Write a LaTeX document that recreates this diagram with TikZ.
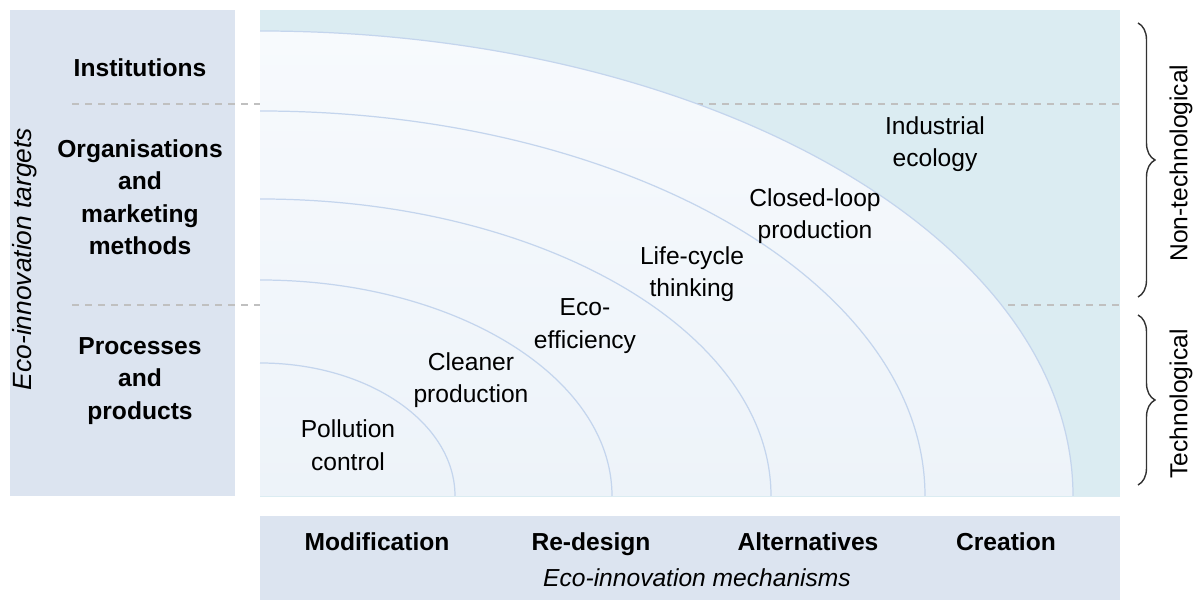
\documentclass[tikz,border=0pt]{standalone}
\usepackage{fontspec}
\setmainfont{Liberation Sans}
\usetikzlibrary{decorations.pathreplacing}
\definecolor{panel}{RGB}{220,228,240}
\definecolor{field}{RGB}{219,236,242}
\definecolor{ringline}{RGB}{196,213,237}
\definecolor{ringtop}{RGB}{247,250,253}
\definecolor{ringbot}{RGB}{237,243,249}
\definecolor{dashgray}{RGB}{192,192,192}
\definecolor{bracegray}{RGB}{50,50,50}

\begin{document}
\begin{tikzpicture}[x=0.02cm,y=0.02cm,
  lbl/.style={align=center,inner sep=0pt,font=\fontsize{14}{18.5}\selectfont},
  hd/.style={align=center,inner sep=0pt,font=\fontsize{14}{18.5}\selectfont\bfseries},
  mech/.style={hd,text height=10pt,text depth=3pt},
  it/.style={inner sep=0pt,font=\fontsize{14}{18.5}\selectfont\itshape},
  sep/.style={dashgray,line width=1.1pt,dash pattern=on 4pt off 3.4pt},
  bracket/.style={bracegray,line width=0.8pt,decorate,decoration={brace,amplitude=0.34cm}}]
\useasboundingbox (0,0) rectangle (1200,601);
\fill[panel] (10,105) rectangle (235,591);
\fill[field] (260,104) rectangle (1120,591);
\fill[panel] (260,1) rectangle (1120,85);
\draw[sep] (72,497) -- (1120,497);
\draw[sep] (72,296) -- (1120,296);
% rings
\shade[top color=ringtop,bottom color=ringbot] (260,105) -- (260,570) arc[start angle=90,end angle=0,x radius=813,y radius=465] -- cycle;
\foreach \rx/\ry in {813/465,665/385,511/297,352/216,195/133}
  \draw[ringline,line width=0.7pt] (260,105+\ry) arc[start angle=90,end angle=0,x radius=\rx,y radius=\ry];
\node[hd] (inst) at (140,533) {Institutions};
\node[hd] (org) at (140,404) {Organisations\\and\\marketing\\methods};
\node[hd] (proc) at (140,220) {Processes\\and\\products};
\node[it,font=\fontsize{15}{18.5}\selectfont\itshape,rotate=90] (targets) at (25,342) {Eco-innovation targets};
\node[lbl] (poll) at (348,156) {Pollution\\control};
\node[lbl] (clean) at (471,221) {Cleaner\\production};
\node[lbl] (eff) at (585,275) {Eco-\\efficiency};
\node[lbl] (life) at (692,327) {Life-cycle\\thinking};
\node[lbl] (loop) at (815,385) {Closed-loop\\production};
\node[lbl] (indus) at (935,457) {Industrial\\ecology};
\node[mech] (mod) at (377,56.5) {Modification};
\node[mech] (redes) at (591,56.5) {Re-design};
\node[mech] (alt) at (808,56.5) {Alternatives};
\node[mech] (creat) at (1006,56.5) {Creation};
\node[it] (mechs) at (697,23) {Eco-innovation mechanisms};
\coordinate (nt1) at (1138,578);
\coordinate (nt2) at (1138,304);
\coordinate (t1) at (1138,286);
\coordinate (t2) at (1138,116);
\draw[bracket] (nt1) -- (nt2);
\draw[bracket] (t1) -- (t2);
\node[lbl,rotate=90] (nontech) at (1181,438) {Non-technological};
\node[lbl,rotate=90] (tech) at (1181,197) {Technological};
\end{tikzpicture}
\end{document}
